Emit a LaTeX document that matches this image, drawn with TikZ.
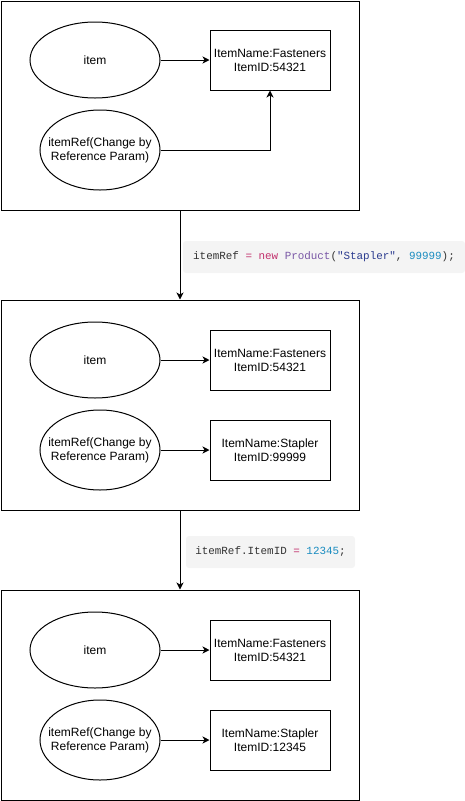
\documentclass[tikz,border=0pt]{standalone}
\usepackage{fontspec}
\setmainfont{Liberation Sans}
\newfontfamily\codefont{Liberation Mono}
\usetikzlibrary{shapes.geometric,arrows.meta}

\definecolor{codebg}{HTML}{F4F4F4}
\definecolor{codetxt}{HTML}{333333}
\definecolor{codeop}{HTML}{C2306C}
\definecolor{codecls}{HTML}{7A58A6}
\definecolor{codestr}{HTML}{2B3B8F}
\definecolor{codenum}{HTML}{1A8CC0}

\begin{document}
\begin{tikzpicture}[x=1pt, y=-1pt, line width=1pt,
    every node/.style={font=\fontsize{12}{14}\selectfont},
    frame/.style={draw, rectangle, minimum width=358pt, minimum height=209pt, inner sep=0pt},
    var/.style={draw, ellipse, minimum width=130pt, minimum height=76pt, inner sep=0pt},
    refvar/.style={draw, ellipse, minimum width=120pt, minimum height=80pt, inner sep=0pt,
                   label={[align=center]center:itemRef(Change by\\Reference Param)}},
    obj/.style={draw, rectangle, minimum width=120pt, minimum height=60pt, inner sep=0pt, align=center},
    code/.style={fill=codebg, rounded corners=3pt, inner sep=0pt, minimum height=32pt,
                 font=\codefont\fontsize{10.9}{13}\selectfont, text=codetxt},
    link/.style={-{Stealth[length=7pt, width=7pt, inset=2pt]}}]
    \useasboundingbox (0, 0) rectangle (465, 801);

    % Before the call
    \node [frame] (box1) at (180, 105.5) {};
    \node [var] (item1) at (95, 60) {item};
    \node [refvar] (ref1) at (100, 150) {};
    \node [obj] (fast1) at (270, 60) {ItemName:Fasteners\\ItemID:54321};

    % Edges
    \draw [link] (item1) -- (fast1);
    \draw [link] (ref1) -| (fast1);

    % After new Product
    \node [frame, minimum height=210pt] (box2) at (180, 405) {};
    \node [var] (item2) at (95, 360) {item};
    \node [refvar] (ref2) at (100, 450) {};
    \node [obj] (fast2) at (270, 360) {ItemName:Fasteners\\ItemID:54321};
    \node [obj] (stap2) at (270, 450) {ItemName:Stapler\\ItemID:99999};

    % Edges
    \draw [link] (item2) -- (fast2);
    \draw [link] (ref2) -- (stap2);

    % After ItemID change
    \node [frame, minimum height=210pt] (box3) at (180, 695) {};
    \node [var] (item3) at (95, 650) {item};
    \node [refvar] (ref3) at (100, 740) {};
    \node [obj] (fast3) at (270, 650) {ItemName:Fasteners\\ItemID:54321};
    \node [obj] (stap3) at (270, 740) {ItemName:Stapler\\ItemID:12345};

    % Edges
    \draw [link] (item3) -- (fast3);
    \draw [link] (ref3) -- (stap3);

    % Steps between frames
    \draw [link] (box1.south) -- (box2.north);
    \draw [link] (box2.south) -- (box3.north);

    % Code labels
    \node [code, minimum width=282pt] (step1) at (324, 257)
          {itemRef \textcolor{codeop}{=} \textcolor{codeop}{new} \textcolor{codecls}{Product}(\textcolor{codestr}{"Stapler"}, \textcolor{codenum}{99999});};
    \node [code, minimum width=169pt] (step2) at (270.5, 552)
          {itemRef.ItemID \textcolor{codeop}{=} \textcolor{codenum}{12345};};
  \end{tikzpicture}
\end{document}
